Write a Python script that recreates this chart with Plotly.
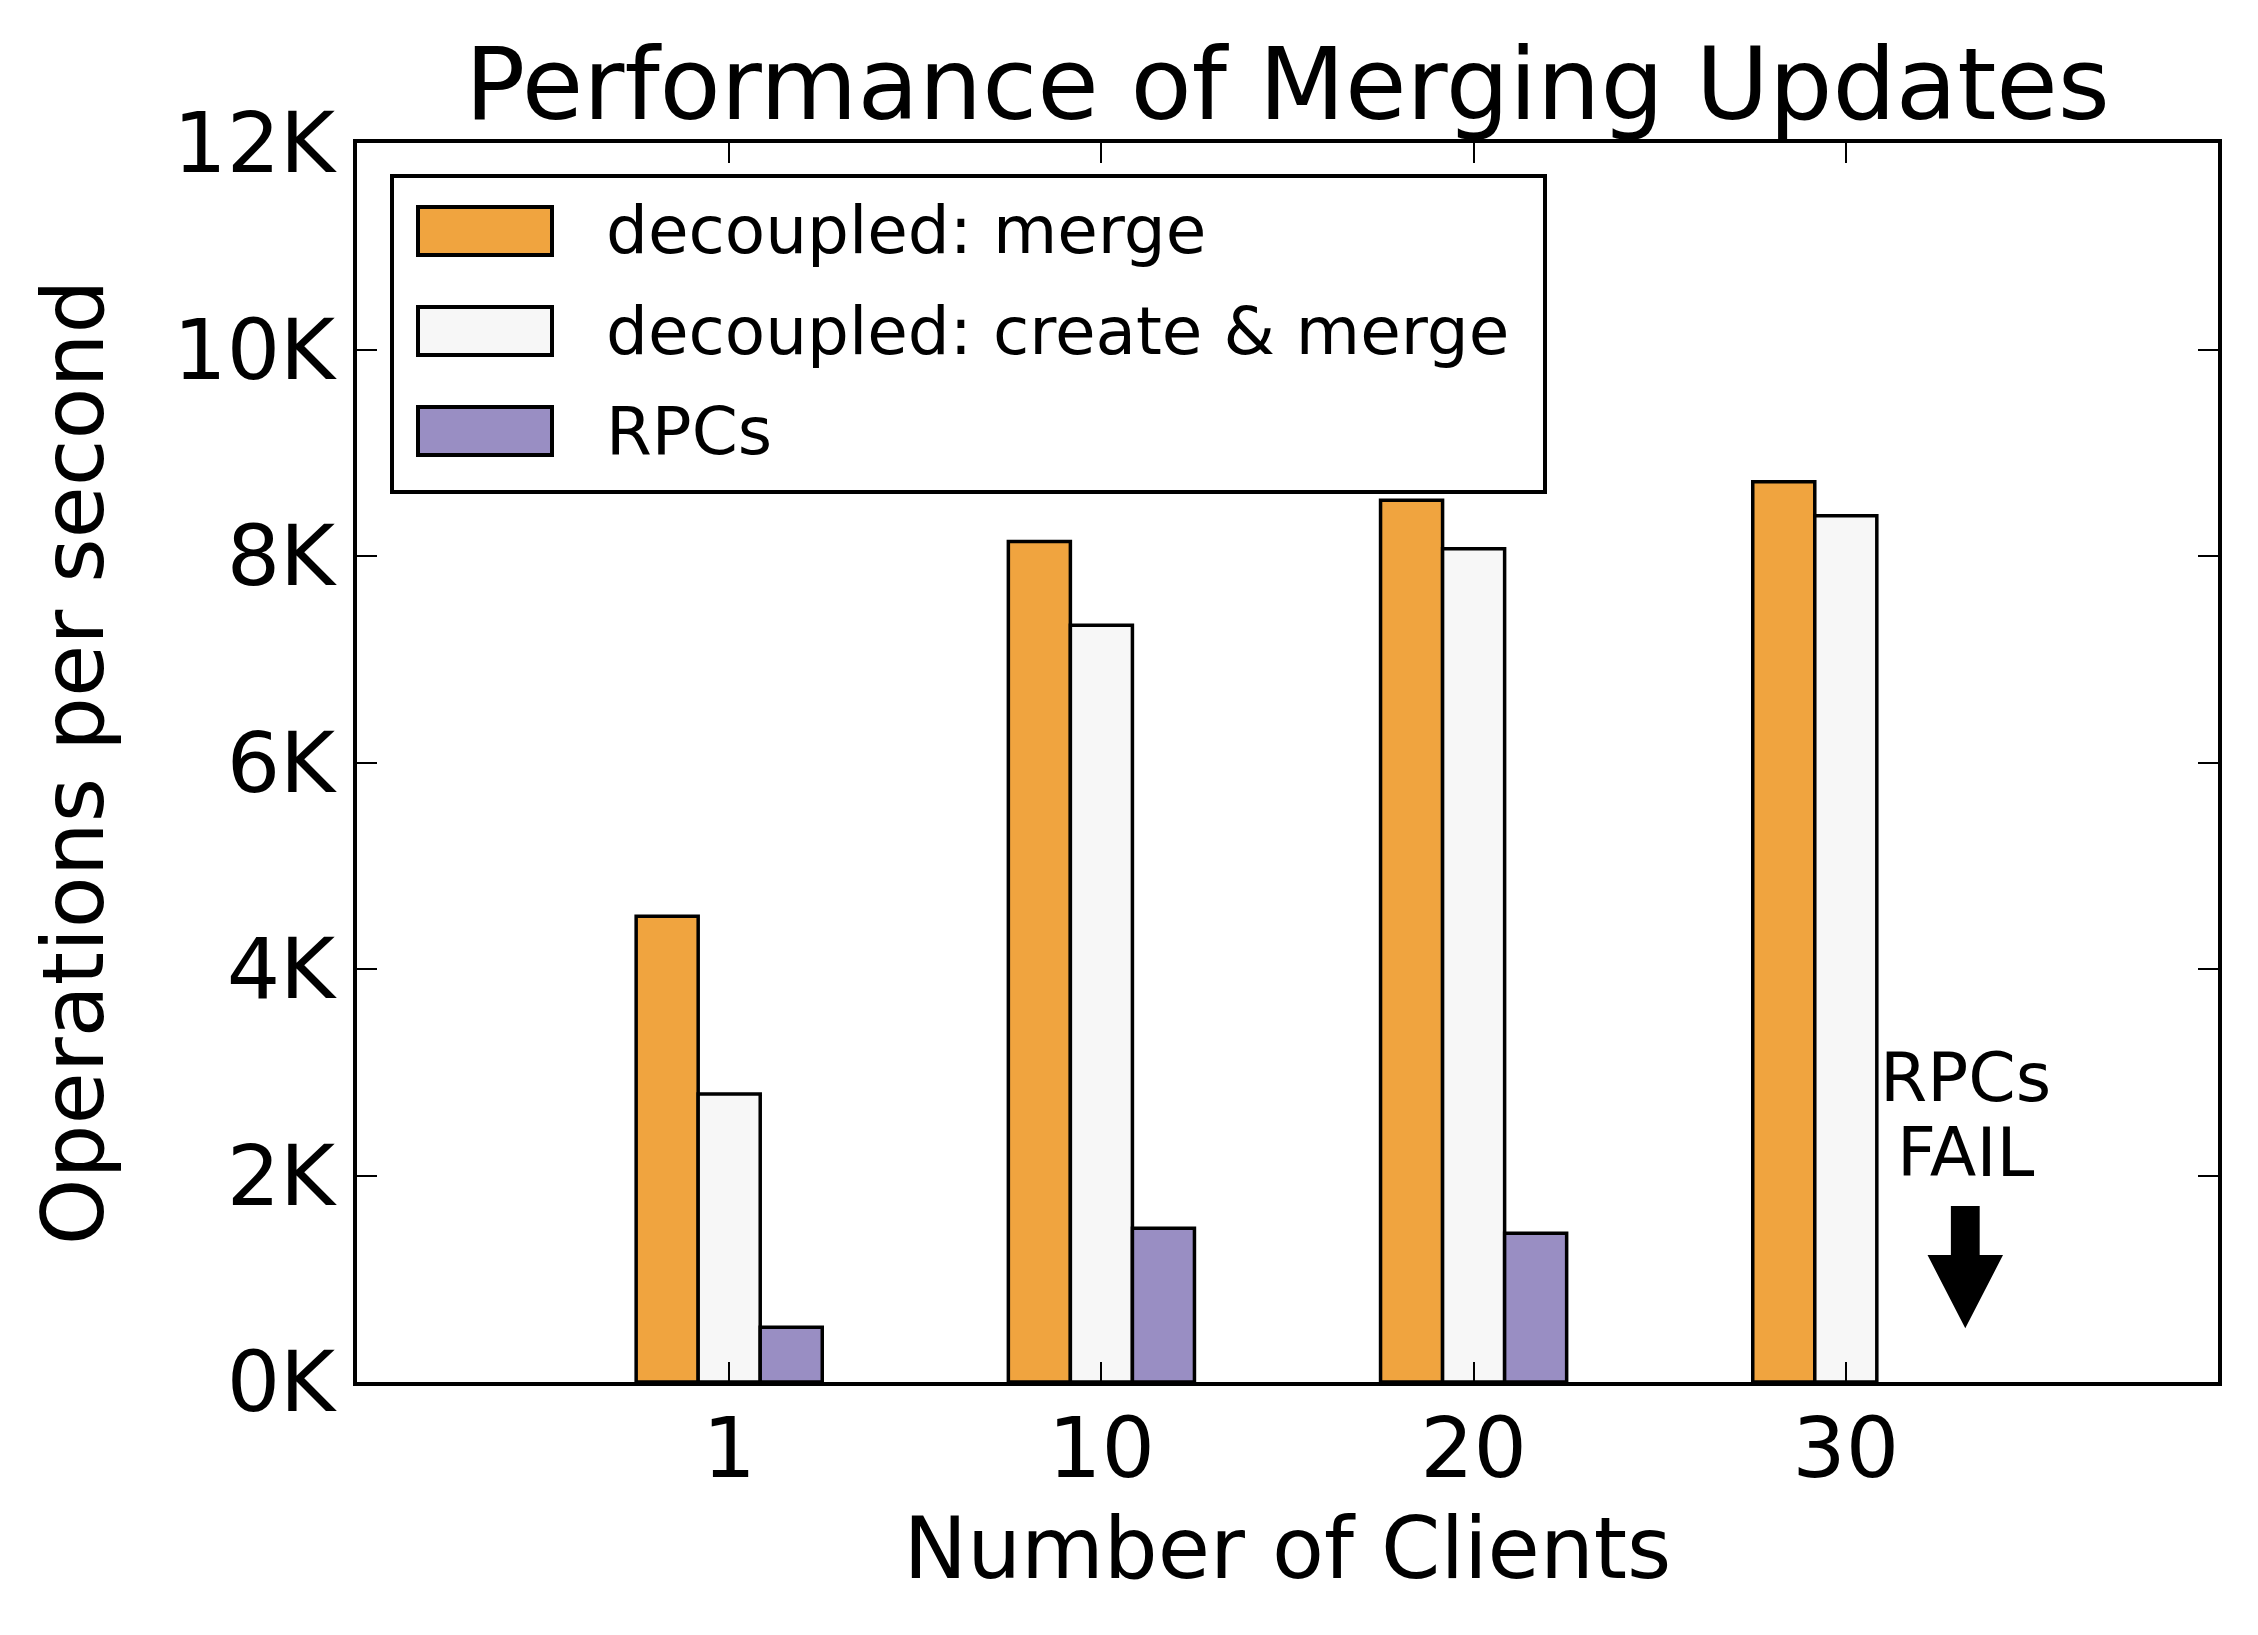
import plotly.graph_objects as go

# ---- data ----
clients = ["1", "10", "20", "30"]
merge = [4510, 8140, 8540, 8720]
create_merge = [2790, 7330, 8070, 8390]
rpcs = [530, 1490, 1440, None]

series_names = ["decoupled: merge", "decoupled: create & merge", "RPCs"]
series_colors = ["#F0A43F", "#F7F7F7", "#998EC3"]
series_values = [merge, create_merge, rpcs]

y_ticks = [0, 2000, 4000, 6000, 8000, 10000, 12000]
y_ticklabels = ["0K", "2K", "4K", "6K", "8K", "10K", "12K"]

FONT = "DejaVu Sans"
W, H = 2258, 1635
L, R, T, B = 357, 40, 143, 253
PW, PH = W - L - R, H - T - B

xpos = list(range(len(clients)))

fig = go.Figure()
for name, col, vals in zip(series_names, series_colors, series_values):
    fig.add_trace(go.Bar(
        x=xpos, y=vals, name=name,
        marker=dict(color=col, line=dict(color="black", width=3.5)),
        showlegend=False,
    ))

fig.update_layout(
    width=W, height=H,
    margin=dict(l=L, r=R, t=T, b=B, pad=0),
    paper_bgcolor="white", plot_bgcolor="white",
    barmode="group", bargap=0.5, bargroupgap=0,
    font=dict(family=FONT, color="black"),
    title=dict(text="Performance of Merging Updates", font=dict(size=100, family=FONT),
               x=(L + PW / 2) / W, xanchor="center", xref="container",
               y=1 - 95 / H, yanchor="bottom", yref="container", pad=dict(b=-24)),
)

fig.update_xaxes(
    range=[-1, len(clients)], tickvals=xpos, ticktext=clients,
    ticks="inside", ticklen=20, tickwidth=2, tickcolor="black",
    showline=True, linewidth=4, linecolor="black", mirror="ticks",
    showgrid=False, zeroline=False,
    tickfont=dict(size=84, family=FONT),
    title=dict(text="Number of Clients", font=dict(size=85, family=FONT), standoff=24),
    ticklabelstandoff=-10,
)
fig.update_yaxes(
    range=[0, 12000], tickvals=y_ticks, ticktext=y_ticklabels,
    ticks="inside", ticklen=20, tickwidth=2, tickcolor="black",
    showline=True, linewidth=4, linecolor="black", mirror="ticks",
    showgrid=False, zeroline=False,
    tickfont=dict(size=84, family=FONT),
    title=dict(text="Operations per second", font=dict(size=85, family=FONT), standoff=42),
    ticklabelstandoff=1,
)

# ---- custom legend (matplotlib-style large patches) ----
def px_x(px):
    return (px - L) / PW

def px_y(py):
    return (H - B - py) / PH

shapes = []
shapes.append(dict(type="rect", xref="paper", yref="paper",
                   x0=px_x(392), x1=px_x(1545), y0=px_y(492), y1=px_y(176),
                   line=dict(color="black", width=4), fillcolor="white", layer="above"))
annotations = []
row_centers = [231, 331, 431]
for name, col, cy in zip(series_names, series_colors, row_centers):
    shapes.append(dict(type="rect", xref="paper", yref="paper",
                       x0=px_x(418), x1=px_x(552), y0=px_y(cy + 24), y1=px_y(cy - 24),
                       line=dict(color="black", width=4), fillcolor=col, layer="above"))
    annotations.append(dict(text=name, xref="paper", yref="paper",
                            x=px_x(604), y=px_y(cy), xanchor="left", yanchor="middle",
                            showarrow=False, font=dict(size=66, family=FONT, color="black")))

# ---- "RPCs FAIL" note and arrow ----
ax = 3.321
annotations.append(dict(text="RPCs", xref="x", yref="y", x=ax, y=2950, xanchor="center",
                        yanchor="middle", showarrow=False,
                        font=dict(size=68, family=FONT, color="black")))
annotations.append(dict(text="FAIL", xref="x", yref="y", x=ax, y=2225, xanchor="center",
                        yanchor="middle", showarrow=False,
                        font=dict(size=68, family=FONT, color="black")))
sw, hw = 0.036, 0.097
shaft_top, head_base, tip = 1695, 1220, 542
path = (f"M {ax - sw},{shaft_top} L {ax + sw},{shaft_top} L {ax + sw},{head_base} "
        f"L {ax + hw},{head_base} L {ax},{tip} L {ax - hw},{head_base} "
        f"L {ax - sw},{head_base} Z")
shapes.append(dict(type="path", xref="x", yref="y", path=path,
                   fillcolor="black", line=dict(color="black", width=2)))

fig.update_layout(shapes=shapes, annotations=annotations)

fig.write_html("out.html")
